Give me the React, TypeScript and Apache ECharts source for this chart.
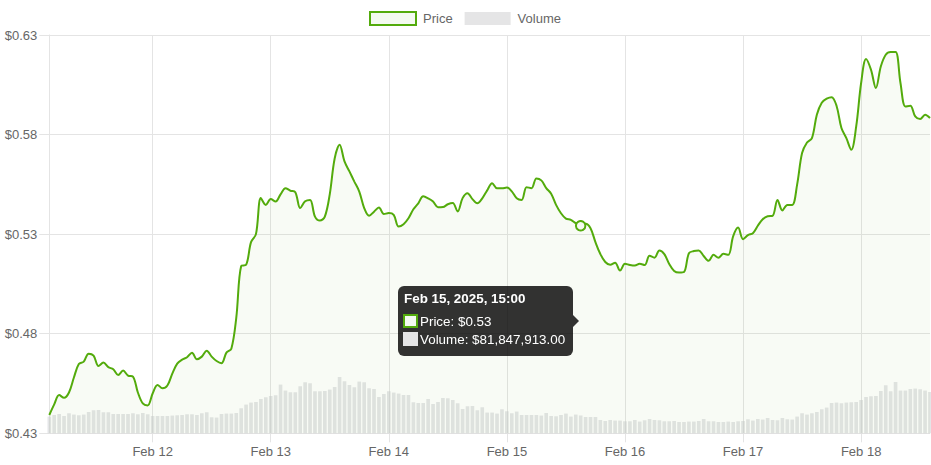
import React, { useEffect, useRef } from "react";
import * as echarts from "echarts";

// Hourly timestamps, Feb 11 2025 03:00 -> Feb 18 2025 14:00 (UTC)
const START_UTC = Date.UTC(2025, 1, 11, 3, 0, 0);
const HOURS = 180;
const MONTHS = ["Jan", "Feb", "Mar", "Apr", "May", "Jun", "Jul", "Aug", "Sep", "Oct", "Nov", "Dec"];
const categories: string[] = Array.from({ length: HOURS }, (_, i) => {
  const d = new Date(START_UTC + i * 3600000);
  const p = (n: number) => (n < 10 ? "0" + n : "" + n);
  return `${d.getUTCFullYear()}-${p(d.getUTCMonth() + 1)}-${p(d.getUTCDate())} ${p(d.getUTCHours())}:00`;
});

// Price (USD)
const priceFeb11 = [
  0.4392, 0.4445, 0.4492, 0.4478, 0.4505, 0.458, 0.4648, 0.466, 0.47, 0.469, 0.4638, 0.4655,
  0.4632, 0.4622, 0.4593, 0.4615, 0.459, 0.4585, 0.4505, 0.445, 0.444,
];
const priceFeb12 = [
  0.45, 0.4543, 0.4526, 0.454, 0.46, 0.465, 0.467, 0.4682, 0.4705, 0.4672, 0.4685, 0.4715,
  0.4685, 0.4663, 0.4652, 0.4705, 0.4725, 0.488, 0.514, 0.5146, 0.526, 0.53, 0.5481, 0.5447,
];
const priceFeb13 = [
  0.5476, 0.5464, 0.55, 0.5531, 0.5518, 0.5511, 0.5431, 0.5465, 0.5472, 0.5388, 0.5368, 0.5388,
  0.55, 0.568, 0.5749, 0.5665, 0.5615, 0.5564, 0.5514, 0.5431, 0.5392, 0.5413, 0.5434, 0.5401,
];
const priceFeb14 = [
  0.5406, 0.5397, 0.5338, 0.535, 0.538, 0.5425, 0.5455, 0.549, 0.548, 0.5464, 0.5435, 0.5436,
  0.545, 0.5456, 0.5414, 0.5481, 0.5506, 0.5476, 0.5455, 0.548, 0.552, 0.5556, 0.553, 0.553,
];
const priceFeb15 = [
  0.5534, 0.5515, 0.548, 0.5472, 0.5536, 0.5531, 0.558, 0.557, 0.5531, 0.5503, 0.5447, 0.5405,
  0.5378, 0.5372, 0.5355, 0.5342, 0.5352, 0.533, 0.526, 0.52, 0.516, 0.5146, 0.5157, 0.5117,
];
const priceFeb16 = [
  0.5151, 0.5145, 0.5142, 0.5151, 0.5145, 0.5191, 0.5182, 0.5218, 0.52, 0.515, 0.5115, 0.5107,
  0.511, 0.5204, 0.5215, 0.5218, 0.519, 0.5166, 0.5196, 0.5182, 0.5201, 0.5196, 0.529, 0.5333,
];
const priceFeb17 = [
  0.5275, 0.5295, 0.5305, 0.5342, 0.5375, 0.539, 0.5392, 0.5472, 0.5419, 0.5447, 0.5447, 0.555,
  0.5707, 0.576, 0.5782, 0.59, 0.596, 0.598, 0.5988, 0.5945, 0.5833, 0.5782, 0.5724, 0.5841,
];
const priceFeb18 = [
  0.6059, 0.6179, 0.6126, 0.6034, 0.6142, 0.6201, 0.6215, 0.6215, 0.6059, 0.5941, 0.5945, 0.5891,
  0.5878, 0.59, 0.5883,
];
const prices = [
  ...priceFeb11, ...priceFeb12, ...priceFeb13, ...priceFeb14,
  ...priceFeb15, ...priceFeb16, ...priceFeb17, ...priceFeb18,
];

// Volume (millions of USD)
const volFeb11 = [
  76.8, 84.2, 88.8, 79.6, 92.0, 86.0, 82.8, 86.0, 98.0, 105.8, 107.2, 96.6, 96.6, 88.8, 88.8,
  88.8, 88.8, 92.0, 87.4, 93.4, 87.4,
];
const volFeb12 = [
  79.6, 79.6, 79.6, 79.6, 81.4, 82.8, 84.2, 87.4, 87.4, 84.2, 92.0, 96.6, 73.6, 72.2, 88.8, 90.6,
  90.6, 93.4, 115.0, 132.0, 141.2, 144.0, 157.8, 165.6,
];
const volFeb13 = [
  171.6, 174.8, 224.0, 196.4, 188.6, 188.6, 216.2, 234.6, 230.0, 193.2, 193.2, 194.6, 201.0,
  213.0, 259.0, 239.2, 222.2, 211.6, 237.8, 234.6, 207.0, 203.8, 167.0, 180.8,
];
const volFeb14 = [
  193.2, 187.2, 182.6, 176.2, 176.2, 142.6, 139.4, 139.4, 157.8, 134.8, 144.0, 162.4, 161.0,
  153.2, 138.0, 111.8, 124.2, 125.6, 105.8, 119.6, 95.2, 95.2, 90.6, 110.4,
];
const volFeb15 = [
  101.2, 92.0, 99.8, 84.2, 84.2, 84.2, 84.2, 81.4, 93.4, 79.6, 78.2, 84.2, 90.6, 76.8, 86.0,
  81.847913, 75.0, 75.0, 75.0, 61.2, 56.6, 61.2, 58.4, 58.4,
];
const volFeb16 = [
  55.2, 55.2, 61.2, 53.8, 59.8, 65.8, 61.2, 59.8, 55.2, 55.2, 56.6, 52.0, 52.0, 53.8, 53.8, 56.6,
  65.8, 55.2, 55.2, 52.0, 52.0, 53.8, 52.0, 55.2,
];
const volFeb17 = [
  56.6, 64.4, 58.4, 65.8, 63.0, 70.4, 61.2, 59.8, 70.4, 64.4, 63.0, 76.8, 92.0, 86.0, 92.0, 98.0,
  110.4, 118.2, 139.4, 141.2, 138.0, 141.2, 142.6, 144.0,
];
const volFeb18 = [
  153.2, 167.0, 170.2, 171.6, 194.6, 220.8, 193.2, 236.0, 196.4, 196.4, 203.8, 205.6, 202.4,
  196.4, 190.0,
];
const volumes = [
  ...volFeb11, ...volFeb12, ...volFeb13, ...volFeb14,
  ...volFeb15, ...volFeb16, ...volFeb17, ...volFeb18,
];

const yTicks = [0.43, 0.48, 0.53, 0.58, 0.63];
const TOOLTIP_INDEX = 108;

const GREEN = "#53ab0c";
const FILL = "rgba(82,171,15,0.06)";
const GRID = "#e4e4e4";
const FONT = "'Liberation Sans', Arial, Helvetica, sans-serif";

function dayLabel(cat: string) {
  const m = parseInt(cat.slice(5, 7), 10);
  const d = parseInt(cat.slice(8, 10), 10);
  return `${MONTHS[m - 1]} ${d}`;
}
function isMidnight(_i: number, cat: string) {
  return cat.slice(11) === "00:00";
}

export default function App() {
  const ref = useRef<HTMLDivElement>(null);
  useEffect(() => {
    document.body.style.margin = "0";
    if (!ref.current) return;
    const chart = echarts.init(ref.current, undefined, { renderer: "svg" });
    chart.setOption({
      animation: false,
      textStyle: { fontFamily: FONT },
      legend: {
        left: 364,
        top: 6,
        itemWidth: 46,
        itemHeight: 13,
        itemGap: 12,
        textStyle: { color: "#666", fontSize: 13, fontFamily: FONT, padding: [0, 0, 0, 2] },
        selectedMode: false,
        data: [
          { name: "Price", icon: "rect", itemStyle: { color: "#f4faf0", borderColor: GREEN, borderWidth: 2 } },
          { name: "Volume", icon: "rect", itemStyle: { color: "#e5e5e6", borderWidth: 0 } },
        ],
      },
      grid: { left: 49.3, right: 1, top: 35, bottom: 31.7, containLabel: false },
      tooltip: {
        trigger: "axis",
        triggerOn: "none",
        alwaysShowContent: true,
        transitionDuration: 0,
        axisPointer: { type: "none", triggerEmphasis: false },
        backgroundColor: "rgba(0,0,0,0.8)",
        borderWidth: 0,
        padding: 0,
        extraCssText: "border-radius:6px;box-shadow:none;",
        position: () => [398, 286],
        formatter: (params: any) => {
          const idx = Array.isArray(params) ? params[0].dataIndex : params.dataIndex;
          const cat = categories[idx];
          const title = `${dayLabel(cat)}, ${cat.slice(0, 4)}, ${cat.slice(11)}`;
          const vol = (volumes[idx] * 1e6).toLocaleString("en-US", {
            minimumFractionDigits: 2,
            maximumFractionDigits: 2,
          });
          const sw = (bg: string, bd: string) =>
            `<span style="display:inline-block;box-sizing:border-box;width:15px;height:14px;background:${bg};border:2px solid ${bd};vertical-align:middle;margin-right:2px;margin-top:-2px"></span>`;
          return (
            `<div style="position:relative;box-sizing:border-box;width:175px;padding:6px 5px 7px 5px;font-family:${FONT};font-size:13.4px;color:#fff;white-space:nowrap">` +
            `<div style="font-weight:bold;line-height:14px;margin-bottom:7px;padding-left:1px">${title}</div>` +
            `<div style="line-height:18px">${sw("#f4faf0", GREEN)}Price: $${prices[idx].toFixed(2)}</div>` +
            `<div style="line-height:18px">${sw("#e5e5e6", "#e5e5e6")}Volume: $${vol}</div>` +
            `<div style="position:absolute;right:-6px;top:29px;width:0;height:0;border-top:6px solid transparent;border-bottom:6px solid transparent;border-left:6px solid rgba(0,0,0,0.8)"></div>` +
            `</div>`
          );
        },
      },
      xAxis: {
        type: "category",
        data: categories,
        boundaryGap: false,
        axisLine: { show: false },
        axisTick: { show: true, interval: isMidnight, length: 9, lineStyle: { color: GRID } },
        axisLabel: {
          interval: isMidnight,
          formatter: (v: string) => dayLabel(v),
          color: "#666",
          fontSize: 13,
          fontFamily: FONT,
          margin: 12,
        },
        splitLine: { show: true, interval: isMidnight, lineStyle: { color: GRID, width: 1 } },
      },
      yAxis: [
        {
          type: "value",
          min: yTicks[0],
          max: yTicks[yTicks.length - 1],
          interval: 0.05,
          axisLine: { show: true, lineStyle: { color: GRID } },
          axisTick: { show: true, length: 10, lineStyle: { color: GRID } },
          axisLabel: {
            color: "#666",
            fontSize: 13,
            fontFamily: FONT,
            margin: 12,
            formatter: (v: number) => "$" + v.toFixed(2),
          },
          splitLine: { show: true, lineStyle: { color: GRID } },
        },
        {
          type: "value",
          show: false,
          min: 0,
          max: 1832,
          splitLine: { show: false },
        },
      ],
      series: [
        {
          name: "Volume",
          type: "bar",
          yAxisIndex: 1,
          data: volumes,
          barWidth: 3.6,
          itemStyle: { color: "rgba(201,203,207,0.5)" },
          emphasis: { disabled: true },
          z: 1,
        },
        {
          name: "Price",
          type: "line",
          data: prices,
          smooth: 0.35,
          showSymbol: false,
          symbol: "circle",
          symbolSize: 9,
          lineStyle: { color: GREEN, width: 2 },
          itemStyle: { color: "#f4faf0", borderColor: GREEN, borderWidth: 1.5 },
          areaStyle: { color: FILL, origin: "start" },
          emphasis: { disabled: true },
          z: 2,
          markPoint: {
            silent: true,
            symbol: "circle",
            symbolSize: 9,
            itemStyle: { color: "rgba(244,250,240,0.6)", borderColor: GREEN, borderWidth: 1.5 },
            label: { show: false },
            data: [{ coord: [categories[TOOLTIP_INDEX], prices[TOOLTIP_INDEX]] }],
          },
        },
      ],
    });
    chart.dispatchAction({ type: "showTip", seriesIndex: 1, dataIndex: TOOLTIP_INDEX });
    const t = setTimeout(() => {
      chart.dispatchAction({ type: "showTip", seriesIndex: 1, dataIndex: TOOLTIP_INDEX });
    }, 50);
    return () => {
      clearTimeout(t);
      chart.dispose();
    };
  }, []);
  return <div ref={ref} style={{ width: 931, height: 465 }} />;
}
